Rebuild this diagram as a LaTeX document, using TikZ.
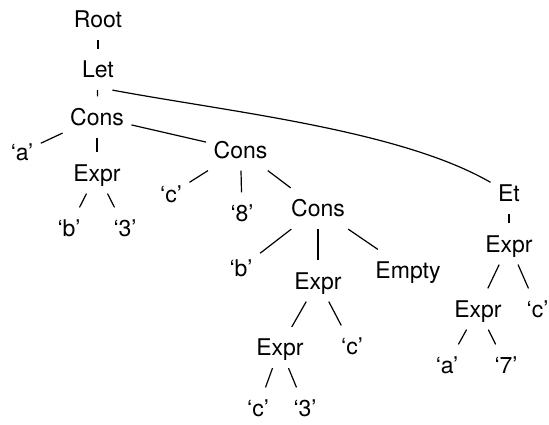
\documentclass[tikz,border=0pt]{standalone}
\usepackage{fontspec}
\setmainfont{TeX Gyre Heros}
\usepackage{tikz}

\begin{document}
\begin{tikzpicture}[x=1pt, y=-1pt, line width=1.2pt,
    every node/.style={font=\fontsize{23}{28}\selectfont,
        inner xsep=7pt, inner ysep=8.5pt,
        text height=19.5pt, text depth=3.5pt}]
    \useasboundingbox (0,0) rectangle (549,424);

    \node (root) at (98,19.5) {Root};
    \node (let) at (98,69.5) {Let};
    \node (cons1) at (97,117) {Cons};
    \node (a1) at (22,152) {‘a’};
    \node (expr1) at (97,173) {Expr};
    \node (b1) at (69,228) {‘b’};
    \node (three1) at (125,228) {‘3’};

    \node (cons2) at (240.5,150) {Cons};
    \node (c1) at (171,194) {‘c’};
    \node (eight) at (242,213) {‘8’};
    \node (cons3) at (318,208.5) {Cons};
    \node (b2) at (241,268) {‘b’};
    \node (expr4) at (318,281) {Expr};
    \node (empty) at (408,270) {Empty};
    \node (expr5) at (280,347.5) {Expr};
    \node (c2) at (352,346) {‘c’};
    \node (c3) at (258,408) {‘c’};
    \node (three2) at (305,408) {‘3’};

    \node (et) at (509,193) {Et};
    \node (expr2) at (509,244) {Expr};
    \node (expr3) at (478,309) {Expr};
    \node (c4) at (537.5,309) {‘c’};
    \node (a2) at (447,365) {‘a’};
    \node (seven) at (506,365) {‘7’};

    \draw (root) -- (let);
    \draw (let) -- (cons1);
    \draw (let.-55) .. controls (230,112) and (400,130) .. (et);
    \draw (cons1) -- (a1);
    \draw (cons1) -- (expr1);
    \draw (cons1) -- (cons2);
    \draw (expr1) -- (b1);
    \draw (expr1) -- (three1);

    \draw (cons2) -- (c1);
    \draw (cons2) -- (eight);
    \draw (cons2) -- (cons3);
    \draw (cons3) -- (b2);
    \draw (cons3) -- (expr4);
    \draw (cons3) -- (empty);
    \draw (expr4) -- (expr5);
    \draw (expr4) -- (c2);
    \draw (expr5) -- (c3);
    \draw (expr5) -- (three2);

    \draw (et) -- (expr2);
    \draw (expr2) -- (expr3);
    \draw (expr2) -- (c4);
    \draw (expr3) -- (a2);
    \draw (expr3) -- (seven);
\end{tikzpicture}
\end{document}
